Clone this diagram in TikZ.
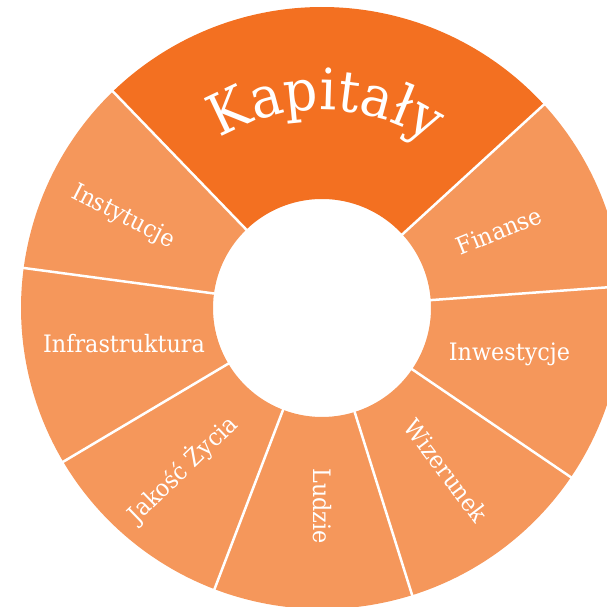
\documentclass[tikz,border=0pt]{standalone}
\usepackage{fontspec}
\setmainfont{DejaVu Serif}[FakeStretch=0.93]
\usetikzlibrary{decorations.text}
\definecolor{kapdark}{RGB}{243,112,33}
\definecolor{seglight}{RGB}{245,151,91}
\newcommand\kapfont{\fontsize{57bp}{64bp}\selectfont}
\begin{document}
\begin{tikzpicture}[x=1bp,y=1bp,
  lbl/.style={text=white, font=\fontsize{24bp}{28bp}\selectfont, inner sep=0pt, text height=17bp, text depth=0pt, anchor=center},
  sepline/.style={draw=white, line width=2.5bp}]
\useasboundingbox (0,0) rectangle (607,607);
\clip (0,0) rectangle (607,607);
\begin{scope}[shift={(322,299)}]
  \def\R{301}\def\r{109}
  \fill[kapdark] (42.5:\R) arc[start angle=42.5,end angle=134,radius=\R] -- (134:\r) arc[start angle=134,end angle=42.5,radius=\r] -- cycle;
  \foreach \i in {0,...,6}{
    \pgfmathsetmacro\a{42.5-38.357*\i}
    \pgfmathsetmacro\b{\a-38.357}
    \fill[seglight] (\a:\R) arc[start angle=\a,end angle=\b,radius=\R] -- (\b:\r) arc[start angle=\b,end angle=\a,radius=\r] -- cycle;
  }
  \foreach \i in {0,...,7}{
    \pgfmathsetmacro\a{42.5-38.357*\i}
    \draw[sepline] (\a:\r-2) -- (\a:\R+2);
  }
  \path[decorate, decoration={text along path, text={|\kapfont|Kapitały}, text align=center, text color=white}]
    (150:198) arc[start angle=150,end angle=28,radius=198];
\end{scope}
\node[lbl, rotate=-27] (instytucje) at (124,392) {Instytucje};
\node[lbl, rotate=22] (finanse) at (499,376) {Finanse};
\node[lbl] (inwestycje) at (509.5,254.5) {Inwestycje};
\node[lbl, rotate=-53] (wizerunek) at (446,136) {Wizerunek};
\node[lbl, rotate=-90] (ludzie) at (322,101) {Ludzie};
\node[lbl, rotate=44] (jakosc) at (182,138) {Jakość Życia};
\node[lbl] (infra) at (124,262.5) {Infrastruktura};
\end{tikzpicture}
\end{document}
